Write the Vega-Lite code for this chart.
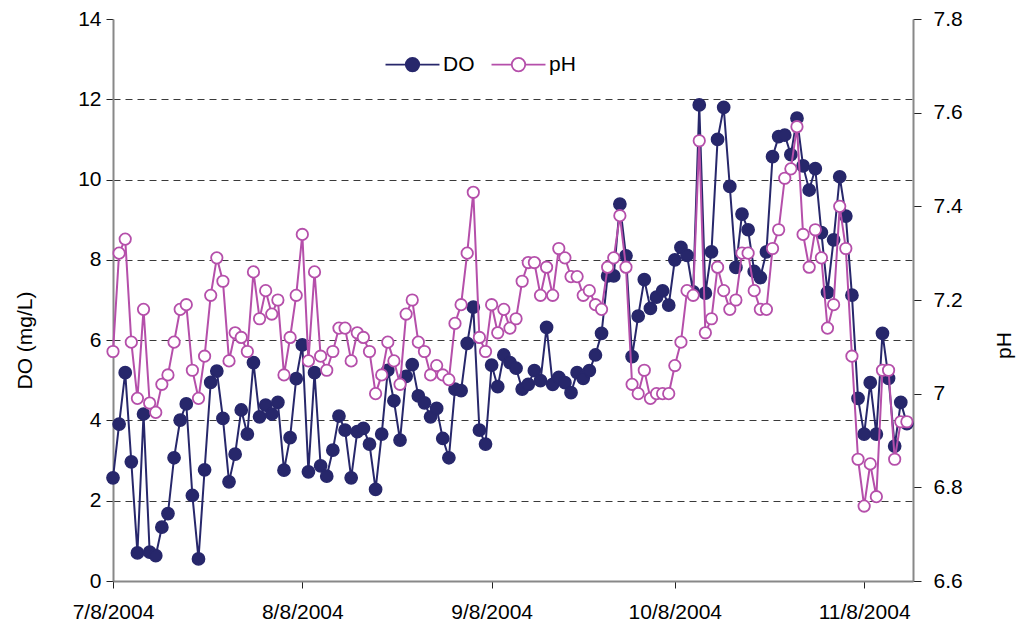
{
  "$schema": "https://vega.github.io/schema/vega-lite/v6.json",
  "width": 800,
  "height": 562,
  "autosize": {"type": "none"},
  "padding": {"left": 113, "top": 19, "right": 108, "bottom": 50},
  "background": "white",
  "config": {
    "font": "Liberation Sans",
    "view": {"stroke": null},
    "axis": {"labelColor": "#000", "titleColor": "#000", "titleFontWeight": "normal"}
  },
  "data": {
    "values": [
      {"date": "2004/07/08", "DO": 2.57, "pH": 7.09},
      {"date": "2004/07/09", "DO": 3.91, "pH": 7.30},
      {"date": "2004/07/10", "DO": 5.19, "pH": 7.33},
      {"date": "2004/07/11", "DO": 2.97, "pH": 7.11},
      {"date": "2004/07/12", "DO": 0.70, "pH": 6.99},
      {"date": "2004/07/13", "DO": 4.16, "pH": 7.18},
      {"date": "2004/07/14", "DO": 0.72, "pH": 6.98},
      {"date": "2004/07/15", "DO": 0.63, "pH": 6.96},
      {"date": "2004/07/16", "DO": 1.34, "pH": 7.02},
      {"date": "2004/07/17", "DO": 1.68, "pH": 7.04},
      {"date": "2004/07/18", "DO": 3.07, "pH": 7.11},
      {"date": "2004/07/19", "DO": 4.01, "pH": 7.18},
      {"date": "2004/07/20", "DO": 4.41, "pH": 7.19},
      {"date": "2004/07/21", "DO": 2.13, "pH": 7.05},
      {"date": "2004/07/22", "DO": 0.55, "pH": 6.99},
      {"date": "2004/07/23", "DO": 2.77, "pH": 7.08},
      {"date": "2004/07/24", "DO": 4.95, "pH": 7.21},
      {"date": "2004/07/25", "DO": 5.23, "pH": 7.29},
      {"date": "2004/07/26", "DO": 4.05, "pH": 7.24},
      {"date": "2004/07/27", "DO": 2.47, "pH": 7.07},
      {"date": "2004/07/28", "DO": 3.16, "pH": 7.13},
      {"date": "2004/07/29", "DO": 4.26, "pH": 7.12},
      {"date": "2004/07/30", "DO": 3.66, "pH": 7.09},
      {"date": "2004/07/31", "DO": 5.44, "pH": 7.26},
      {"date": "2004/08/01", "DO": 4.09, "pH": 7.16},
      {"date": "2004/08/02", "DO": 4.38, "pH": 7.22},
      {"date": "2004/08/03", "DO": 4.16, "pH": 7.17},
      {"date": "2004/08/04", "DO": 4.45, "pH": 7.20},
      {"date": "2004/08/05", "DO": 2.76, "pH": 7.04},
      {"date": "2004/08/06", "DO": 3.57, "pH": 7.12},
      {"date": "2004/08/07", "DO": 5.04, "pH": 7.21},
      {"date": "2004/08/08", "DO": 5.88, "pH": 7.34},
      {"date": "2004/08/09", "DO": 2.72, "pH": 7.07},
      {"date": "2004/08/10", "DO": 5.19, "pH": 7.26},
      {"date": "2004/08/11", "DO": 2.87, "pH": 7.08},
      {"date": "2004/08/12", "DO": 2.61, "pH": 7.05},
      {"date": "2004/08/13", "DO": 3.26, "pH": 7.09},
      {"date": "2004/08/14", "DO": 4.11, "pH": 7.14},
      {"date": "2004/08/15", "DO": 3.76, "pH": 7.14},
      {"date": "2004/08/16", "DO": 2.57, "pH": 7.07},
      {"date": "2004/08/17", "DO": 3.72, "pH": 7.13},
      {"date": "2004/08/18", "DO": 3.80, "pH": 7.12},
      {"date": "2004/08/19", "DO": 3.41, "pH": 7.09},
      {"date": "2004/08/20", "DO": 2.28, "pH": 7.00},
      {"date": "2004/08/21", "DO": 3.66, "pH": 7.04},
      {"date": "2004/08/22", "DO": 5.25, "pH": 7.11},
      {"date": "2004/08/23", "DO": 4.49, "pH": 7.07},
      {"date": "2004/08/24", "DO": 3.51, "pH": 7.02},
      {"date": "2004/08/25", "DO": 5.10, "pH": 7.17},
      {"date": "2004/08/26", "DO": 5.39, "pH": 7.20},
      {"date": "2004/08/27", "DO": 4.61, "pH": 7.11},
      {"date": "2004/08/28", "DO": 4.44, "pH": 7.09},
      {"date": "2004/08/29", "DO": 4.09, "pH": 7.04},
      {"date": "2004/08/30", "DO": 4.30, "pH": 7.06},
      {"date": "2004/08/31", "DO": 3.55, "pH": 7.04},
      {"date": "2004/09/01", "DO": 3.07, "pH": 7.03},
      {"date": "2004/09/02", "DO": 4.78, "pH": 7.15},
      {"date": "2004/09/03", "DO": 4.74, "pH": 7.19},
      {"date": "2004/09/04", "DO": 5.92, "pH": 7.30},
      {"date": "2004/09/05", "DO": 6.82, "pH": 7.43},
      {"date": "2004/09/06", "DO": 3.76, "pH": 7.12},
      {"date": "2004/09/07", "DO": 3.41, "pH": 7.09},
      {"date": "2004/09/08", "DO": 5.38, "pH": 7.19},
      {"date": "2004/09/09", "DO": 4.84, "pH": 7.13},
      {"date": "2004/09/10", "DO": 5.63, "pH": 7.18},
      {"date": "2004/09/11", "DO": 5.44, "pH": 7.14},
      {"date": "2004/09/12", "DO": 5.30, "pH": 7.16},
      {"date": "2004/09/13", "DO": 4.78, "pH": 7.24},
      {"date": "2004/09/14", "DO": 4.90, "pH": 7.28},
      {"date": "2004/09/15", "DO": 5.24, "pH": 7.28},
      {"date": "2004/09/16", "DO": 4.99, "pH": 7.21},
      {"date": "2004/09/17", "DO": 6.32, "pH": 7.27},
      {"date": "2004/09/18", "DO": 4.90, "pH": 7.21},
      {"date": "2004/09/19", "DO": 5.07, "pH": 7.31},
      {"date": "2004/09/20", "DO": 4.94, "pH": 7.29},
      {"date": "2004/09/21", "DO": 4.69, "pH": 7.25},
      {"date": "2004/09/22", "DO": 5.19, "pH": 7.25},
      {"date": "2004/09/23", "DO": 5.05, "pH": 7.21},
      {"date": "2004/09/24", "DO": 5.24, "pH": 7.22},
      {"date": "2004/09/25", "DO": 5.63, "pH": 7.19},
      {"date": "2004/09/26", "DO": 6.17, "pH": 7.18},
      {"date": "2004/09/27", "DO": 7.60, "pH": 7.27},
      {"date": "2004/09/28", "DO": 7.60, "pH": 7.29},
      {"date": "2004/09/29", "DO": 9.39, "pH": 7.38},
      {"date": "2004/09/30", "DO": 8.10, "pH": 7.27},
      {"date": "2004/10/01", "DO": 5.59, "pH": 7.02},
      {"date": "2004/10/02", "DO": 6.60, "pH": 7.00},
      {"date": "2004/10/03", "DO": 7.51, "pH": 7.05},
      {"date": "2004/10/04", "DO": 6.79, "pH": 6.99},
      {"date": "2004/10/05", "DO": 7.07, "pH": 7.00},
      {"date": "2004/10/06", "DO": 7.23, "pH": 7.00},
      {"date": "2004/10/07", "DO": 6.87, "pH": 7.00},
      {"date": "2004/10/08", "DO": 8.00, "pH": 7.06},
      {"date": "2004/10/09", "DO": 8.31, "pH": 7.11},
      {"date": "2004/10/10", "DO": 8.11, "pH": 7.22},
      {"date": "2004/10/11", "DO": 7.20, "pH": 7.21},
      {"date": "2004/10/12", "DO": 11.86, "pH": 7.54},
      {"date": "2004/10/13", "DO": 7.17, "pH": 7.13},
      {"date": "2004/10/14", "DO": 8.20, "pH": 7.16},
      {"date": "2004/10/15", "DO": 11.00, "pH": 7.27},
      {"date": "2004/10/16", "DO": 11.80, "pH": 7.22},
      {"date": "2004/10/17", "DO": 9.83, "pH": 7.18},
      {"date": "2004/10/18", "DO": 7.81, "pH": 7.20},
      {"date": "2004/10/19", "DO": 9.14, "pH": 7.30},
      {"date": "2004/10/20", "DO": 8.75, "pH": 7.30},
      {"date": "2004/10/21", "DO": 7.71, "pH": 7.22},
      {"date": "2004/10/22", "DO": 7.56, "pH": 7.18},
      {"date": "2004/10/23", "DO": 8.20, "pH": 7.18},
      {"date": "2004/10/24", "DO": 10.57, "pH": 7.31},
      {"date": "2004/10/25", "DO": 11.07, "pH": 7.35},
      {"date": "2004/10/26", "DO": 11.11, "pH": 7.46},
      {"date": "2004/10/27", "DO": 10.62, "pH": 7.48},
      {"date": "2004/10/28", "DO": 11.53, "pH": 7.57},
      {"date": "2004/10/29", "DO": 10.34, "pH": 7.34},
      {"date": "2004/10/30", "DO": 9.74, "pH": 7.27},
      {"date": "2004/10/31", "DO": 10.27, "pH": 7.35},
      {"date": "2004/11/01", "DO": 8.68, "pH": 7.29},
      {"date": "2004/11/02", "DO": 7.19, "pH": 7.14},
      {"date": "2004/11/03", "DO": 8.50, "pH": 7.19},
      {"date": "2004/11/04", "DO": 10.07, "pH": 7.40},
      {"date": "2004/11/05", "DO": 9.09, "pH": 7.31},
      {"date": "2004/11/06", "DO": 7.12, "pH": 7.08},
      {"date": "2004/11/07", "DO": 4.55, "pH": 6.86},
      {"date": "2004/11/08", "DO": 3.66, "pH": 6.76},
      {"date": "2004/11/09", "DO": 4.94, "pH": 6.85},
      {"date": "2004/11/10", "DO": 3.66, "pH": 6.78},
      {"date": "2004/11/11", "DO": 6.17, "pH": 7.05},
      {"date": "2004/11/12", "DO": 5.05, "pH": 7.05},
      {"date": "2004/11/13", "DO": 3.36, "pH": 6.86},
      {"date": "2004/11/14", "DO": 4.45, "pH": 6.94},
      {"date": "2004/11/15", "DO": 3.92, "pH": 6.94}
    ]
  },
  "encoding": {
    "x": {
      "field": "date",
      "type": "temporal",
      "scale": {"domain": [{"year": 2004, "month": "jul", "date": 8}, {"year": 2004, "month": "nov", "date": 16}]},
      "axis": {
        "title": null,
        "grid": false,
        "values": [
          {"year": 2004, "month": "jul", "date": 8},
          {"year": 2004, "month": "aug", "date": 8},
          {"year": 2004, "month": "sep", "date": 8},
          {"year": 2004, "month": "oct", "date": 8},
          {"year": 2004, "month": "nov", "date": 8}
        ],
        "format": "%-m/%-d/%Y",
        "labelFontSize": 21,
        "labelPadding": 13,
        "tickSize": 7,
        "tickColor": "#222",
        "domainColor": "#888",
        "domainWidth": 2,
        "labelFlush": false,
        "labelOverlap": false
      }
    }
  },
  "layer": [
    {
      "mark": {
        "type": "line",
        "strokeWidth": 2,
        "point": {"filled": false, "fill": "#27276B", "size": 150, "strokeWidth": 1.5}
      },
      "encoding": {
        "y": {
          "field": "DO",
          "type": "quantitative",
          "scale": {"domain": [0, 14], "nice": false, "zero": true},
          "axis": {
            "orient": "left",
            "title": "DO (mg/L)",
            "values": [0, 2, 4, 6, 8, 10, 12, 14],
            "labelFontSize": 21,
            "labelPadding": 5,
            "tickSize": 7,
            "tickColor": "#222",
            "domainColor": "#888",
            "domainWidth": 2,
            "grid": true,
            "gridDash": [7, 5],
            "gridColor": "#3a3a3a",
            "gridWidth": 1,
            "gridOpacity": {"condition": {"test": "datum.value >= 14", "value": 0}, "value": 1},
            "titleFontSize": 21,
            "titleAngle": 270,
            "titleAlign": "center",
            "titleBaseline": "middle",
            "titleX": -88,
            "titleY": 321
          }
        },
        "color": {
          "datum": "DO",
          "scale": {"domain": ["DO", "pH"], "range": ["#27276B", "#B54FAA"]},
          "legend": {
            "title": null,
            "orient": "none",
            "direction": "horizontal",
            "legendX": 289,
            "legendY": 35,
            "labelFontSize": 21,
            "labelColor": "#000",
            "labelOffset": 20,
            "columnPadding": 12,
            "symbolSize": 182,
            "symbolStrokeWidth": 1.8,
            "symbolType": "M-4,0H-1M1,0H4M-1,0A1,1,0,1,0,1,0A1,1,0,1,0,-1,0Z",
            "encode": {
              "symbols": {
                "update": {
                  "fill": [{"test": "datum.value === 'pH'", "value": "#ffffff"}, {"value": "#27276B"}],
                  "fillOpacity": {"value": 1},
                  "strokeWidth": {"value": 1.8}
                }
              }
            }
          }
        }
      }
    },
    {
      "mark": {
        "type": "line",
        "strokeWidth": 2,
        "point": {"filled": false, "fill": "#ffffff", "size": 130, "strokeWidth": 1.8}
      },
      "encoding": {
        "y": {
          "field": "pH",
          "type": "quantitative",
          "scale": {"domain": [6.6, 7.8], "nice": false, "zero": false},
          "axis": {
            "orient": "right",
            "title": "pH",
            "values": [6.6, 6.8, 7.0, 7.2, 7.4, 7.6, 7.8],
            "format": ".1~f",
            "labelFontSize": 21,
            "labelPadding": 12,
            "tickSize": 8,
            "tickColor": "#222",
            "domainColor": "#888",
            "domainWidth": 2,
            "grid": false,
            "titleFontSize": 21,
            "titleAngle": 270,
            "titleAlign": "center",
            "titleBaseline": "middle",
            "titleX": 91,
            "titleY": 326
          }
        },
        "color": {"datum": "pH"}
      }
    }
  ],
  "resolve": {"scale": {"y": "independent"}}
}
